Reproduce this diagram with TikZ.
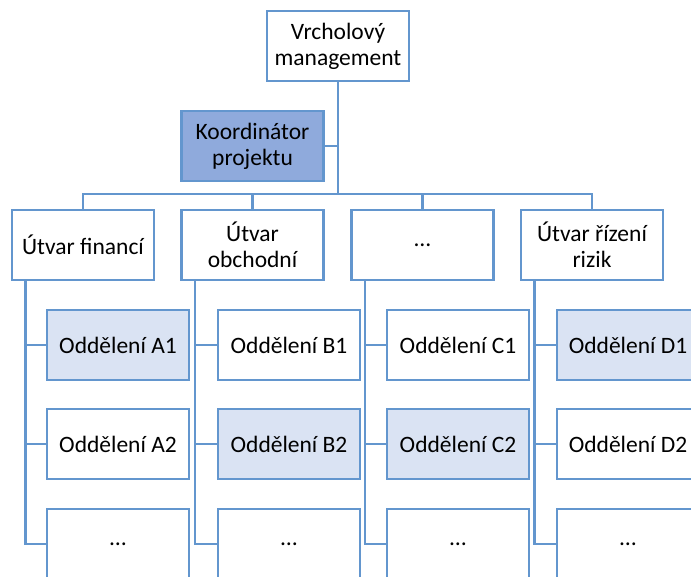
\documentclass[tikz,border=0pt]{standalone}
\usepackage{fontspec}
\setmainfont{Carlito}
\begin{document}
\definecolor{lineblue}{HTML}{6396CE}
\definecolor{coordfill}{HTML}{8FAADC}
\definecolor{lightfill}{HTML}{DAE3F3}
\begin{tikzpicture}[x=1pt,y=1pt,
  box/.style={draw=lineblue, line width=2.5pt, fill=white, minimum width=142pt,
    minimum height=70pt, inner sep=2pt, align=center,
    font=\fontsize{23.5}{26}\selectfont},
  hl/.style={box, fill=lightfill},
  coordbox/.style={box, fill=coordfill},
  link/.style={draw=lineblue, line width=2.5pt}]
\useasboundingbox (0,0) rectangle (691,-577);
\clip (0,0) rectangle (691,-577);
% top level
\node[box] (top) at (338,-46) {Vrcholový\\management};
\node[coordbox] (coord) at (252.5,-146) {Koordinátor\\projektu};
\coordinate (bus) at (338,-194);
% divisions
\node[box] (A) at (83,-245) {Útvar financí};
\node[box] (B) at (252.5,-245) {Útvar\\obchodní};
\node[box] (C) at (422.5,-245) {…};
\node[box] (D) at (592,-245) {Útvar řízení\\rizik};
% departments
\node[hl]  (A1) at (118,-345) {Oddělení A1};
\node[box] (A2) at (118,-444) {Oddělení A2};
\node[box] (A3) at (118,-544) {…};
\node[box] (B1) at (289,-345) {Oddělení B1};
\node[hl]  (B2) at (289,-444) {Oddělení B2};
\node[box] (B3) at (289,-544) {…};
\node[box] (C1) at (458,-345) {Oddělení C1};
\node[hl]  (C2) at (458,-444) {Oddělení C2};
\node[box] (C3) at (458,-544) {…};
\node[hl]  (D1) at (628,-345) {Oddělení D1};
\node[box] (D2) at (628,-444) {Oddělení D2};
\node[box] (D3) at (628,-544) {…};
% connectors
\draw[link] (top.south) -- (bus);
\draw[link] (coord.east) -- (coord.east -| top.south);
\draw[link] (A.north) |- (bus) -| (D.north);
\draw[link] (B.north) -- (B.north |- bus);
\draw[link] (C.north) -- (C.north |- bus);
\foreach \p in {A,B,C,D}{
  \coordinate (s\p) at ([xshift=14.5pt]\p.south west);
  \draw[link] (s\p) |- (\p3.west);
  \draw[link] (\p1.west) -- (\p1.west -| s\p);
  \draw[link] (\p2.west) -- (\p2.west -| s\p);
}
\end{tikzpicture}
\end{document}
